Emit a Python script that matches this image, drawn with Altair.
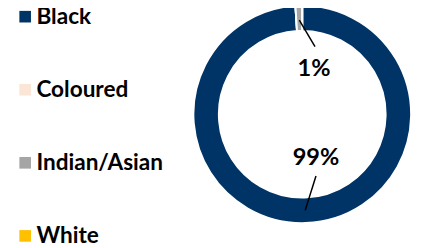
import altair as alt
import pandas as pd

groups = ["Black", "Coloured", "Indian/Asian", "White"]
shares = [99, 0, 1, 0]
colors = ["#003466", "#FBE5D6", "#A5A5A5", "#FFC000"]
label_text = ["99%", "", "1%", ""]

df = pd.DataFrame({"group": groups, "share": shares, "idx": list(range(len(groups))), "lab": label_text})

FONT = "Lato, sans-serif"
CX, CY = 300, 106

color = alt.Color(
    "group:N",
    scale=alt.Scale(domain=groups, range=colors),
    legend=alt.Legend(
        title=None, orient="none", legendX=6, legendY=-5,
        symbolType="square", symbolSize=140, symbolStrokeWidth=0,
        labelFont=FONT, labelFontSize=23, labelFontWeight="bold", labelColor="#000000",
        labelOffset=0, rowPadding=50.5, labelLimit=300,
    ),
)

donut = alt.Chart(df).mark_arc(outerRadius=111, innerRadius=85, stroke="white", strokeWidth=2).encode(
    theta=alt.Theta("share:Q", stack=True),
    color=color,
    order=alt.Order("idx:Q"),
    x=alt.value(CX), y=alt.value(CY),
)

lab1 = alt.Chart(df[df.group == "Indian/Asian"]).mark_text(
    font=FONT, fontSize=24, fontWeight="bold", color="black"
).encode(text="lab:N", x=alt.value(CX + 12), y=alt.value(CY - 46))
lab2 = alt.Chart(df[df.group == "Black"]).mark_text(
    font=FONT, fontSize=24, fontWeight="bold", color="black"
).encode(text="lab:N", x=alt.value(CX + 14), y=alt.value(CY + 45))

rule1 = alt.Chart(df[df.group == "Indian/Asian"]).mark_rule(color="black", strokeWidth=1.5).encode(
    x=alt.value(CX - 3), y=alt.value(CY - 96), x2=alt.value(CX + 13), y2=alt.value(CY - 69)
)
rule2 = alt.Chart(df[df.group == "Black"]).mark_rule(color="black", strokeWidth=1.5).encode(
    x=alt.value(CX + 14), y=alt.value(CY + 63), x2=alt.value(CX + 3), y2=alt.value(CY + 98)
)

chart = alt.layer(donut, rule1, rule2, lab1, lab2).properties(
    width=417, height=240, padding=0, autosize=alt.AutoSizeParams(type="none")
).configure_view(stroke=None)

chart.save("out.html", embed_options={"renderer": "svg", "actions": False})
